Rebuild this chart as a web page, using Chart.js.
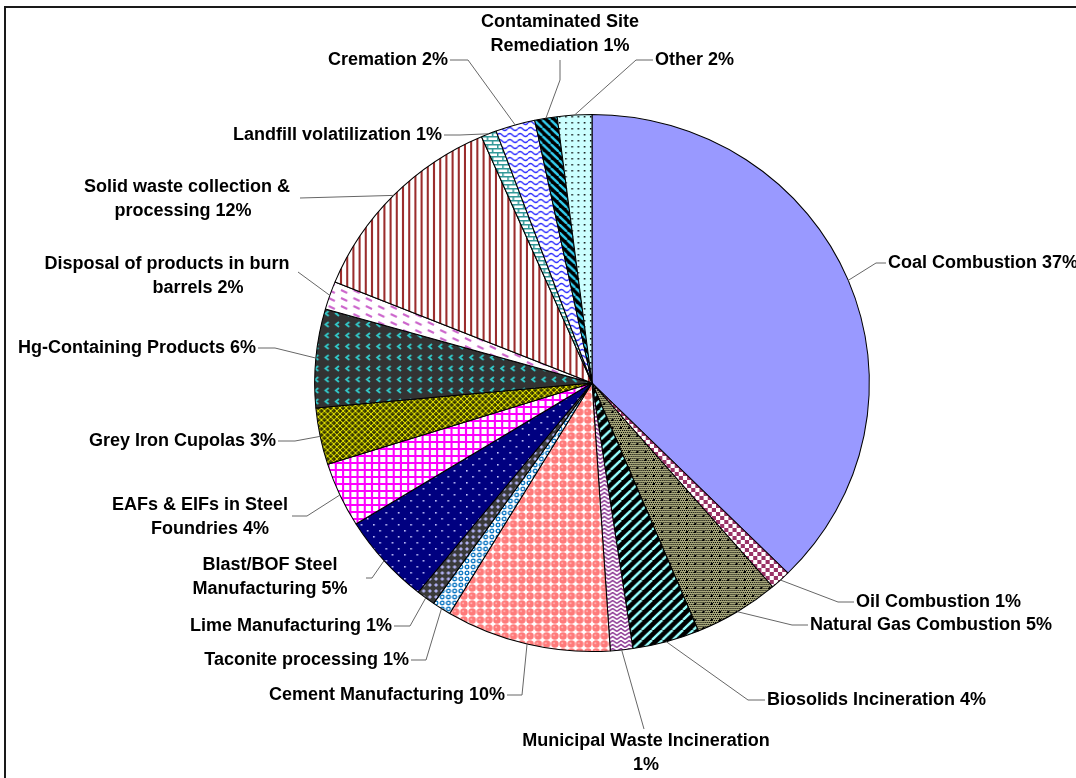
<!DOCTYPE html>
<html lang="en">
<head>
<meta charset="UTF-8">
<title>Mercury emission sources</title>
<script src="https://cdn.jsdelivr.net/npm/chart.js"></script>
<style>
  html, body { margin: 0; padding: 0; background: #fff; }
  .wrap { position: relative; width: 1076px; height: 778px; overflow: hidden; }
  .frame { position: absolute; left: 4px; top: 6px; width: 1100px; height: 800px;
           border-top: 2px solid #1a1a1a; border-left: 2px solid #1a1a1a; }
  canvas { position: absolute; left: 0; top: 0; }
</style>
</head>
<body>
<div class="wrap">
  <div class="frame"></div>
  <canvas id="pie" width="1076" height="778"></canvas>
</div>
<script>
// slices, clockwise from 12 o'clock
const categories = [
  'Coal Combustion', 'Oil Combustion', 'Natural Gas Combustion', 'Biosolids Incineration',
  'Municipal Waste Incineration', 'Cement Manufacturing', 'Taconite processing',
  'Lime Manufacturing', 'Blast/BOF Steel Manufacturing', 'EAFs & EIFs in Steel Foundries',
  'Grey Iron Cupolas', 'Hg-Containing Products', 'Disposal of products in burn barrels',
  'Solid waste collection & processing', 'Landfill volatilization', 'Cremation',
  'Contaminated Site Remediation', 'Other'
];
const shares = [37.4, 1.2, 5.0, 3.9, 1.3, 9.6, 1.1, 1.1, 5.4, 3.9, 3.4, 5.9, 1.7, 12.3, 0.9, 2.3, 1.3, 2.0];
const percentText = ['37%', '1%', '5%', '4%', '1%', '10%', '1%', '1%', '5%', '4%', '3%', '6%', '2%', '12%', '1%', '2%', '1%', '2%'];

// label text as wrapped in the picture
const labelLines = [
  ['Coal Combustion 37%'],
  ['Oil Combustion 1%'],
  ['Natural Gas Combustion 5%'],
  ['Biosolids Incineration 4%'],
  ['Municipal Waste Incineration', '1%'],
  ['Cement Manufacturing 10%'],
  ['Taconite processing 1%'],
  ['Lime Manufacturing 1%'],
  ['Blast/BOF Steel', 'Manufacturing 5%'],
  ['EAFs & EIFs in Steel', 'Foundries 4%'],
  ['Grey Iron Cupolas 3%'],
  ['Hg-Containing Products 6%'],
  ['Disposal of products in burn', 'barrels 2%'],
  ['Solid waste collection &', 'processing 12%'],
  ['Landfill volatilization 1%'],
  ['Cremation 2%'],
  ['Contaminated Site', 'Remediation 1%'],
  ['Other 2%']
];

// label placement (x per line) and leader line start/elbow (layout only)
const labelLayout = [
  { x: [888], y: 263, align: 'left',   from: [886, 263], elbow: [876, 263] },
  { x: [856], y: 602, align: 'left',   from: [854, 602], elbow: [838, 602] },
  { x: [810], y: 625, align: 'left',   from: [808, 625], elbow: [792, 625] },
  { x: [767], y: 700, align: 'left',   from: [765, 700], elbow: [748, 700] },
  { x: [646, 646], y: 741, align: 'center', from: [644, 729], elbow: [644, 729] },
  { x: [505], y: 695, align: 'right',  from: [507, 695], elbow: [522, 695] },
  { x: [409], y: 660, align: 'right',  from: [411, 660], elbow: [426, 660] },
  { x: [392], y: 626, align: 'right',  from: [394, 626], elbow: [410, 626] },
  { x: [270, 270], y: 565, align: 'center', from: [366, 578], elbow: [372, 578] },
  { x: [200, 210], y: 505, align: 'center', from: [292, 516], elbow: [307, 516] },
  { x: [276], y: 441, align: 'right',  from: [278, 441], elbow: [295, 441] },
  { x: [256], y: 348, align: 'right',  from: [258, 348], elbow: [275, 348] },
  { x: [167, 198], y: 264, align: 'center', from: [298, 272], elbow: [298, 272] },
  { x: [187, 183], y: 187, align: 'center', from: [300, 198], elbow: [300, 198] },
  { x: [442], y: 135, align: 'right',  from: [444, 135], elbow: [460, 135] },
  { x: [448], y: 60,  align: 'right',  from: [450, 60],  elbow: [468, 60] },
  { x: [560, 560], y: 22,  align: 'center', from: [560, 60],  elbow: [560, 80] },
  { x: [655], y: 60,  align: 'left',   from: [653, 60],  elbow: [636, 60] }
];

const stretchX = 1.033; // the pie in the picture is slightly wider than tall

const canvas = document.getElementById('pie');
const mainCtx = canvas.getContext('2d');

function tile(w, h, paint) {
  const c = document.createElement('canvas');
  c.width = w; c.height = h;
  const g = c.getContext('2d');
  paint(g, w, h);
  return mainCtx.createPattern(c, 'repeat');
}

function stripes(w, bg, fg, lw, dir) {
  return tile(w, w, g => {
    g.fillStyle = bg; g.fillRect(0, 0, w, w);
    g.strokeStyle = fg; g.lineWidth = lw;
    for (const o of [-w, 0, w]) {
      g.beginPath();
      if (dir === '/') { g.moveTo(o, w); g.lineTo(o + w, 0); }
      else { g.moveTo(o, 0); g.lineTo(o + w, w); }
      g.stroke();
    }
  });
}

const fills = [
  '#9999FF',
  tile(8, 8, g => { g.fillStyle = '#fff'; g.fillRect(0, 0, 8, 8); g.fillStyle = '#993366'; g.fillRect(0, 0, 4, 4); g.fillRect(4, 4, 4, 4); }),
  tile(8, 8, g => {
    g.fillStyle = '#A6A67A'; g.fillRect(0, 0, 8, 8); g.fillStyle = '#000';
    for (let y = 0; y < 8; y += 2) for (let x = (y / 2) % 2; x < 8; x += 2) g.fillRect(x, y, 1, 1);
    g.fillRect(3, 3, 2, 2);
  }),
  stripes(10, '#000', '#99FFFF', 2.4, '/'),
  tile(8, 8, g => {
    g.fillStyle = '#fff'; g.fillRect(0, 0, 8, 8); g.strokeStyle = '#8E3A96'; g.lineWidth = 1.5;
    for (const y of [0, 4]) { g.beginPath(); g.moveTo(0, y + 3.5); g.lineTo(4, y + 0.5); g.lineTo(8, y + 3.5); g.stroke(); }
  }),
  tile(8, 8, g => {
    g.fillStyle = '#fff'; g.fillRect(0, 0, 8, 8);
    g.fillStyle = '#FF7A7A'; g.beginPath(); g.arc(4, 4, 3.7, 0, Math.PI * 2); g.fill();
    g.fillStyle = '#FFB4B4'; g.beginPath(); g.arc(3.2, 3.2, 1, 0, Math.PI * 2); g.fill();
  }),
  tile(6, 6, g => {
    g.fillStyle = '#fff'; g.fillRect(0, 0, 6, 6);
    g.strokeStyle = '#0070C0'; g.lineWidth = 1.3; g.beginPath(); g.arc(3, 3, 1.8, 0, Math.PI * 2); g.stroke();
  }),
  tile(6, 6, g => {
    g.fillStyle = '#3A3A3A'; g.fillRect(0, 0, 6, 6); g.fillStyle = '#B0B0F0';
    g.beginPath(); g.moveTo(3, 1); g.lineTo(5, 3); g.lineTo(3, 5); g.lineTo(1, 3); g.closePath(); g.fill();
  }),
  tile(12, 12, g => {
    g.fillStyle = '#000080'; g.fillRect(0, 0, 12, 12); g.fillStyle = '#C8C8FF';
    g.fillRect(2, 2, 1.6, 1.6); g.fillRect(8, 8, 1.6, 1.6);
  }),
  tile(7, 7, g => {
    g.fillStyle = '#fff'; g.fillRect(0, 0, 7, 7); g.fillStyle = '#FF00FF';
    g.fillRect(0, 0, 7, 2); g.fillRect(0, 0, 2, 7);
  }),
  tile(6, 6, g => {
    g.fillStyle = '#555500'; g.fillRect(0, 0, 6, 6); g.strokeStyle = '#DDDD00'; g.lineWidth = 1;
    g.beginPath(); g.moveTo(0, 0); g.lineTo(6, 6); g.moveTo(6, 0); g.lineTo(0, 6); g.stroke();
    g.fillStyle = '#000'; g.fillRect(2.5, 0, 1, 1); g.fillRect(0, 2.5, 1, 1);
  }),
  tile(10, 11, g => {
    g.fillStyle = '#333333'; g.fillRect(0, 0, 10, 11); g.strokeStyle = '#33CCCC'; g.lineWidth = 1.8;
    g.beginPath(); g.moveTo(7, 3); g.lineTo(4, 5.5); g.lineTo(7, 8); g.stroke();
  }),
  tile(12, 8, g => {
    g.fillStyle = '#fff'; g.fillRect(0, 0, 12, 8); g.strokeStyle = '#CC66CC'; g.lineWidth = 2;
    g.beginPath(); g.moveTo(1, 2); g.lineTo(7, 5); g.stroke();
  }),
  tile(6, 6, g => { g.fillStyle = '#fff'; g.fillRect(0, 0, 6, 6); g.fillStyle = '#9B2D2D'; g.fillRect(0, 0, 2, 6); }),
  tile(10, 8, g => {
    g.fillStyle = '#fff'; g.fillRect(0, 0, 10, 8); g.fillStyle = '#339999';
    g.fillRect(0, 0, 10, 1.5); g.fillRect(0, 4, 10, 1.5); g.fillRect(0, 0, 1.5, 4); g.fillRect(5, 4, 1.5, 4);
  }),
  tile(10, 6, g => {
    g.fillStyle = '#fff'; g.fillRect(0, 0, 10, 6); g.strokeStyle = '#3333FF'; g.lineWidth = 1.3;
    g.beginPath(); g.moveTo(0, 3); g.quadraticCurveTo(2.5, 0, 5, 3); g.quadraticCurveTo(7.5, 6, 10, 3); g.stroke();
  }),
  stripes(8, '#000', '#33CCEE', 2.4, '\\'),
  tile(6, 6, g => { g.fillStyle = '#CCFFFF'; g.fillRect(0, 0, 6, 6); g.fillStyle = '#000'; g.fillRect(2, 2, 1.5, 1.5); })
];

const ellipsePlugin = {
  id: 'ellipse',
  beforeDatasetsDraw(chart) {
    const a = chart.getDatasetMeta(0).data[0];
    const ctx = chart.ctx;
    ctx.save();
    ctx.translate(a.x, a.y);
    ctx.scale(stretchX, 1);
    ctx.translate(-a.x, -a.y);
  },
  afterDatasetsDraw(chart) {
    chart.ctx.restore();
  }
};

const calloutPlugin = {
  id: 'callouts',
  afterDraw(chart) {
    const ctx = chart.ctx;
    const arcs = chart.getDatasetMeta(0).data;
    ctx.save();
    arcs.forEach((a, i) => {
      const L = labelLayout[i];
      const mid = (a.startAngle + a.endAngle) / 2;
      const px = a.x + Math.cos(mid) * a.outerRadius * stretchX;
      const py = a.y + Math.sin(mid) * a.outerRadius;
      ctx.strokeStyle = '#666';
      ctx.lineWidth = 1;
      ctx.beginPath();
      ctx.moveTo(L.from[0], L.from[1]);
      ctx.lineTo(L.elbow[0], L.elbow[1]);
      ctx.lineTo(px, py);
      ctx.stroke();

      ctx.fillStyle = '#000';
      ctx.font = 'bold 18px "Liberation Sans", Arial, sans-serif';
      ctx.textAlign = L.align;
      ctx.textBaseline = 'middle';
      labelLines[i].forEach((t, k) => ctx.fillText(t, L.x[k], L.y + k * 24));
    });
    ctx.restore();
  }
};

new Chart(canvas, {
  type: 'pie',
  data: {
    labels: categories.map((c, i) => c + ' ' + percentText[i]),
    datasets: [{
      data: shares,
      backgroundColor: fills,
      borderColor: '#000',
      borderWidth: 1
    }]
  },
  options: {
    responsive: false,
    animation: false,
    layout: { padding: { top: 114, bottom: 126, left: 323, right: 215 } },
    plugins: {
      legend: { display: false },
      tooltip: { enabled: false }
    }
  },
  plugins: [ellipsePlugin, calloutPlugin]
});
</script>
</body>
</html>
